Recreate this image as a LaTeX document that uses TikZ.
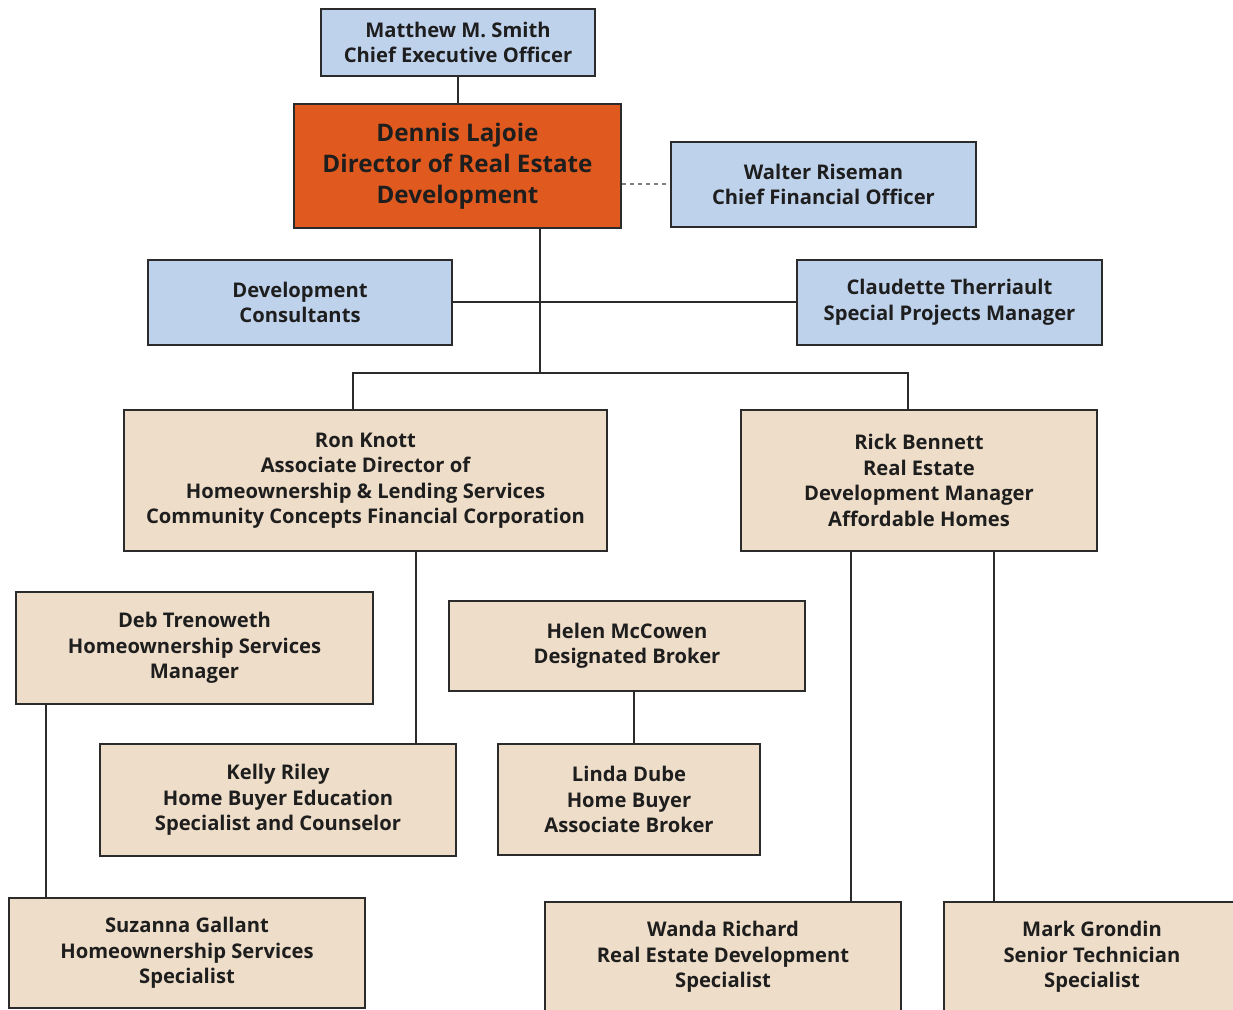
\documentclass[tikz,border=0pt]{standalone}
\usepackage{fontspec}
\setmainfont{Open Sans}
\definecolor{bluefill}{HTML}{BFD2EC}
\definecolor{tanfill}{HTML}{EEDDC8}
\definecolor{orangefill}{HTML}{E05A1F}
\definecolor{edge}{HTML}{2B2B2B}
\definecolor{txt}{HTML}{1E1E1E}
\begin{document}
\begin{tikzpicture}[x=0.5pt,y=-0.5pt,
  box/.style={draw=edge,line width=1.3pt,align=center,inner sep=0pt,text=txt,
    font=\fontsize{10.1}{12.75}\selectfont\bfseries},
  bluebox/.style={box,fill=bluefill},
  tanbox/.style={box,fill=tanfill},
  orangebox/.style={box,fill=orangefill,font=\fontsize{12.1}{15.5}\selectfont\bfseries},
  link/.style={draw=edge,line width=1pt},
  dotlink/.style={draw=gray,line width=1pt,dash pattern=on 2pt off 2pt}]
\useasboundingbox (0,0) rectangle (1233,1010);
\clip (0,0) rectangle (1233,1010);
\fill[white] (0,0) rectangle (1233,1010);

\node[bluebox,minimum width=137pt,minimum height=33.5pt] (ceo) at (458,42.5)
  {Matthew M. Smith\\Chief Executive Officer};
\node[orangebox,minimum width=163.5pt,minimum height=62pt] (dennis) at (457.5,166)
  {Dennis Lajoie\\Director of Real Estate\\Development};
\node[bluebox,minimum width=152.5pt,minimum height=42.5pt] (walter) at (823.5,184.5)
  {Walter Riseman\\Chief Financial Officer};
\node[bluebox,minimum width=152pt,minimum height=42.5pt] (devc) at (300,302.5)
  {Development\\Consultants};
\node[bluebox,minimum width=152.5pt,minimum height=42.5pt] (claud) at (949.5,302.5)
  {Claudette Therriault\\Special Projects Manager};
\node[tanbox,minimum width=241.5pt,minimum height=70.5pt] (ron) at (365.5,480.5)
  {Ron Knott\\Associate Director of\\Homeownership \& Lending Services\\Community Concepts Financial Corporation};
\node[tanbox,minimum width=178pt,minimum height=70.5pt] (rick) at (919,480.5)
  {Rick Bennett\\Real Estate\\Development Manager\\Affordable Homes};
\node[tanbox,minimum width=178.5pt,minimum height=56pt] (deb) at (194.5,648)
  {Deb Trenoweth\\Homeownership Services\\Manager};
\node[tanbox,minimum width=178pt,minimum height=45pt] (helen) at (627,646)
  {Helen McCowen\\Designated Broker};
\node[tanbox,minimum width=178pt,minimum height=56pt] (kelly) at (278,800)
  {Kelly Riley\\Home Buyer Education\\Specialist and Counselor};
\node[tanbox,minimum width=131pt,minimum height=55.5pt] (linda) at (629,799.5)
  {Linda Dube\\Home Buyer\\Associate Broker};
\node[tanbox,minimum width=178pt,minimum height=55pt] (suz) at (187,953)
  {Suzanna Gallant\\Homeownership Services\\Specialist};
\node[tanbox,minimum width=178pt,minimum height=55pt] (wanda) at (723,957)
  {Wanda Richard\\Real Estate Development\\Specialist};
\node[tanbox,minimum width=148pt,minimum height=55pt] (mark) at (1092,957)
  {Mark Grondin\\Senior Technician\\Specialist};

\coordinate (bustop) at (540,373);
\coordinate (busL) at (353,373);
\coordinate (busR) at (908,373);
\coordinate (xk) at (416,0);
\coordinate (xd) at (46,0);
\coordinate (xh) at (634,0);
\coordinate (xw) at (851,0);
\coordinate (xm) at (994,0);

\draw[link] (ceo.south) -- (ceo.south |- dennis.north);
\draw[dotlink] (dennis.east |- walter.west) -- (walter.west);
\draw[link] (dennis.south -| bustop) -- (bustop);
\draw[link] (devc.east) -- (claud.west);
\draw[link] (ron.north -| busL) -- (busL) -- (busR) -- (rick.north -| busR);
\draw[link] (ron.south -| xk) -- (kelly.north -| xk);
\draw[link] (deb.south -| xd) -- (suz.north -| xd);
\draw[link] (helen.south -| xh) -- (linda.north -| xh);
\draw[link] (rick.south -| xw) -- (wanda.north -| xw);
\draw[link] (rick.south -| xm) -- (mark.north -| xm);
\end{tikzpicture}
\end{document}
